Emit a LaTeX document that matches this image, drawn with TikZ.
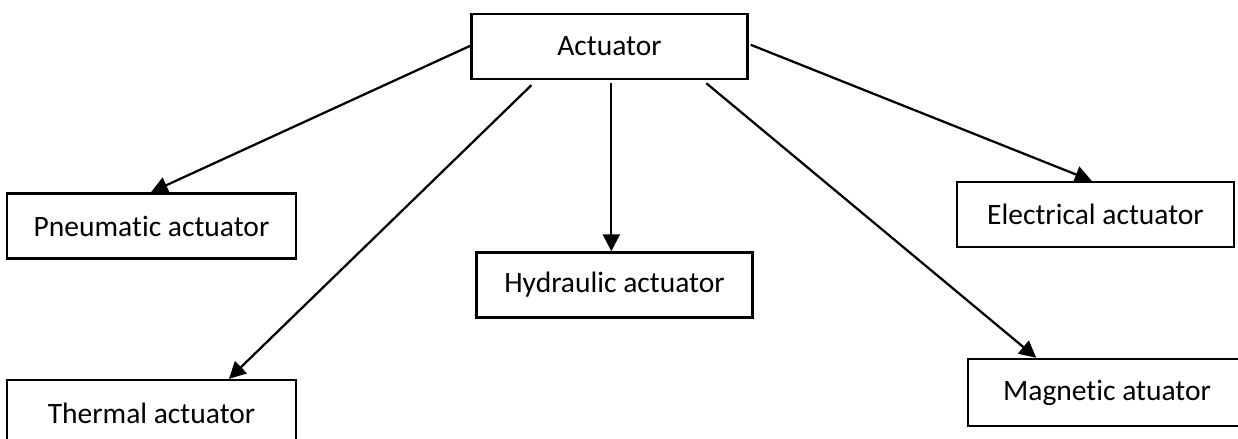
\documentclass[tikz,border=0pt]{standalone}
\usepackage{fontspec}
\setmainfont{Carlito}[RawFeature={-liga;-clig;-calt;-dlig}]
\usetikzlibrary{arrows.meta, calc}

\begin{document}
\begin{tikzpicture}[
  x=0.025cm, y=-0.025cm,
  box/.style={rectangle, draw=black, line width=1.6pt, fill=white, minimum width=6.9cm, minimum height=1.63cm, font=\fontsize{21}{25}\selectfont, align=center, inner sep=0pt},
  arr/.style={-{Triangle[length=0.42cm, width=0.42cm]}, line width=1.6pt, black}
]
  \clip (0,0) rectangle (1238,439);

  \node[box] (act) at (609.5,46.5) {Actuator};
  \node[box, minimum width=7.22cm] (pneu) at (151.5,226) {Pneumatic actuator};
  \node[box] (hyd) at (614.5,285) {Hydraulic actuator};
  \node[box, minimum width=6.93cm] (elec) at (1095.5,214.5) {Electrical actuator};
  \node[box, minimum width=7.22cm, minimum height=1.65cm] (therm) at (151.5,413) {Thermal actuator};
  \node[box, minimum width=6.93cm, minimum height=1.68cm] (mag) at (1107,392.5) {Magnetic atuator};

  \draw[arr] ($(act.north west)+(0,33)$) -- ($(pneu.north west)+(145,0)$);
  \draw[arr] ($(act.south west)+(61,5)$) -- ($(therm.north west)+(223,0)$);
  \draw[arr] ($(act.south west)+(141,3)$) -- ($(hyd.north west)+(136,0)$);
  \draw[arr] ($(act.south west)+(236,3)$) -- ($(mag.north west)+(69,0)$);
  \draw[arr] ($(act.north east)+(2,32)$) -- ($(elec.north west)+(136,0)$);
\end{tikzpicture}
\end{document}
